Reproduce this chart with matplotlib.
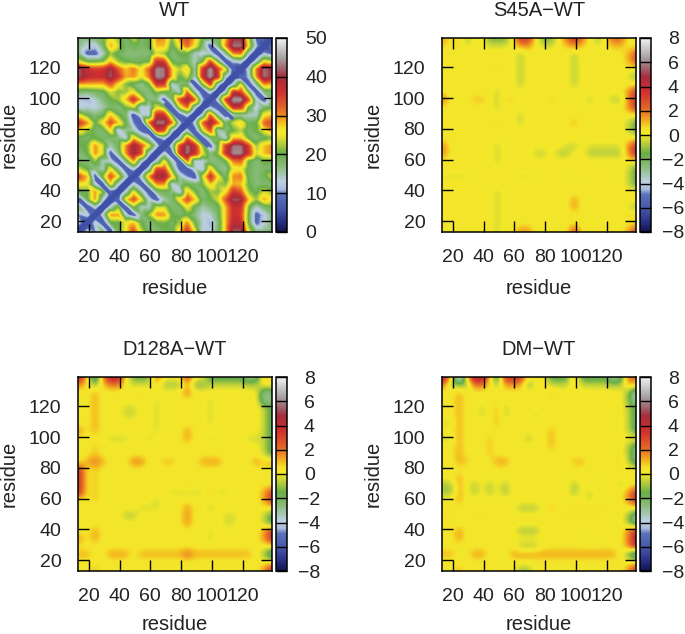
import numpy as np
import matplotlib
matplotlib.use("Agg")
import matplotlib.pyplot as plt
from matplotlib.cm import ScalarMappable
from matplotlib.colors import LinearSegmentedColormap, Normalize
from matplotlib.tri import Triangulation, LinearTriInterpolator

plt.rcParams['font.family'] = ['Liberation Sans', 'DejaVu Sans']
plt.rcParams['font.size'] = 14

# grid nodes (residue numbers) the maps were read at
residues = [14, 19, 24, 29, 34, 39, 44, 49, 54, 59, 64, 69, 74, 79, 84, 89, 94, 99, 104, 109, 114, 119, 124, 129, 134, 139]
tick_residues = [20, 40, 60, 80, 100, 120]
wt_cbar_ticks = [0, 10, 20, 30, 40, 50]
diff_cbar_ticks = [-8, -6, -4, -2, 0, 2, 4, 6, 8]

# WT map is symmetric: each row starts on the diagonal, rows go from residue 14 up to 139
wt_upper = [
    [3, 14, 10, 18, 7, 19, 26, 34, 24, 18, 17, 19, 19, 27, 36, 26, 13, 12, 18, 28, 42, 42, 25, 17, 17, 18],
    [3, 14, 6, 20, 20, 25, 28, 20, 17, 20, 21, 18, 22, 30, 20, 14, 11, 17, 28, 38, 37, 20, 8, 13, 17],
    [3, 14, 30, 30, 13, 7, 17, 22, 30, 30, 20, 18, 20, 17, 13, 14, 18, 28, 37, 35, 20, 8, 12, 17],
    [3, 14, 22, 7, 22, 14, 14, 24, 24, 18, 18, 26, 19, 15, 17, 19, 28, 37, 36, 21, 14, 18, 19],
    [3, 8, 27, 34, 26, 13, 7, 15, 18, 27, 34, 28, 18, 20, 24, 33, 42, 41, 28, 22, 29, 26],
    [3, 14, 26, 16, 7, 17, 19, 17, 12, 28, 21, 17, 22, 21, 26, 36, 33, 22, 19, 24, 22],
    [3, 14, 7, 18, 30, 30, 13, 16, 20, 18, 21, 28, 22, 21, 29, 28, 20, 17, 18, 18],
    [3, 14, 30, 41, 41, 28, 15, 10, 7, 24, 37, 26, 18, 30, 31, 19, 17, 19, 24],
    [3, 14, 34, 34, 20, 8, 7, 14, 12, 28, 18, 16, 25, 26, 19, 17, 18, 18],
    [3, 14, 26, 14, 7, 32, 13, 13, 17, 17, 20, 31, 32, 20, 17, 20, 20],
    [3, 14, 7, 36, 43, 37, 25, 17, 22, 36, 44, 44, 36, 24, 28, 30],
    [3, 14, 34, 43, 37, 22, 7, 20, 35, 43, 43, 35, 22, 28, 30],
    [3, 14, 32, 20, 7, 18, 18, 13, 28, 28, 20, 17, 19, 21],
    [3, 14, 7, 24, 34, 14, 17, 20, 23, 18, 20, 26, 30],
    [3, 14, 32, 41, 32, 18, 24, 28, 19, 20, 32, 34],
    [3, 14, 33, 16, 7, 14, 15, 14, 14, 26, 28],
    [3, 12, 7, 20, 37, 36, 20, 12, 18, 20],
    [3, 14, 35, 45, 45, 34, 14, 7, 18],
    [3, 14, 37, 35, 20, 7, 17, 18],
    [3, 14, 26, 7, 16, 30, 28],
    [3, 6, 12, 30, 43, 40],
    [3, 14, 31, 43, 40],
    [3, 14, 26, 24],
    [3, 12, 9],
    [3, 9],
    [3],
]

# blue ridges of the WT map, (x0, y0, x1, y1) in residues
wt_ridges = [
    (14, 34, 34, 14), (25, 47, 47, 25), (36, 62, 63, 36), (49, 88, 88, 49),
    (70, 96, 97, 69), (87, 111, 113, 87), (101, 132, 133, 100),
]
wt_diagonal = (13, 13, 139, 139)

# difference maps are flat yellow apart from these (x residues, y residues, value) cells
diff_base = 0.3
s45a_cells = [
    ([14], [139], 1.5), ([24], [139], 1.0), ([29], [139], -1.0), ([44, 49, 54], [139], -1.5),
    ([64, 69], [139], 3.6), ([79, 84], [139], -1.5), ([99], [139], 3.8), ([94, 104], [139], 2.0),
    ([114], [139], -1.0), ([124, 129], [139], 2.4),
    ([139], [129, 124], 2.6), ([139], [114], -1.2), ([139], [94, 99, 104], 3.6), ([139], [79, 84], -1.8),
    ([139], [64, 69], 3.7), ([139], [44, 49, 54], -1.7), ([139], [29], -1.2), ([139], [24], 1.0), ([139], [14], 3.0),
    ([64, 69], [14], 1.5), ([99], [14], 2.8), ([14], [99], 2.0), ([14], [64, 69], 1.6),
    ([64], [109, 114, 119, 124, 129], -0.7), ([64], [84, 89], -0.5),
    ([99], [109, 114, 119, 124, 129], -0.7),
    ([49], [14, 19, 24, 29, 34, 39], -0.4), ([49], [59, 64, 69], -0.4), ([49], [94, 99, 104], -0.5),
    ([74, 79], [64], -0.6), ([89, 94], [64], -0.8), ([109, 114, 119, 124, 129], [64], -0.8),
    ([94, 109, 114, 119, 124, 129], [69], -0.2), ([99], [69], -0.7),
    ([24], [99], -0.3), ([34, 39], [99], 1.0), ([54, 59], [99], 0.8), ([64], [99], -0.2), ([84], [99], 1.0),
    ([94], [99], -0.3), ([109], [99], -0.7), ([124, 129], [99], -0.7),
    ([14, 19, 24, 29], [49], -0.2), ([64, 69], [49], -0.2), ([99], [49], -0.3),
    ([99], [29, 34], 1.4), ([99], [84], 1.2), ([49], [84], 0.9), ([49], [119], 0.9),
]
d128a_cells = [
    ([14], [139], 4.0), ([19], [139], 1.0), ([24], [139], -4.0), ([29], [139], 1.5), ([34, 39], [139], 4.6),
    ([49, 54, 59], [139], -1.6), ([64], [139], 2.2), ([69, 74, 79], [134], -1.0), ([84], [139], 3.2),
    ([89, 94], [134], -1.4), ([99, 104, 109, 114, 119], [139], -2.0), ([124, 129], [139], -2.9), ([134], [139], 1.2),
    ([134, 139], [124, 129], -2.4), ([139], [89, 94, 99, 104, 109, 114, 119], -2.1), ([139], [84], 1.6),
    ([139], [59, 64], 3.2), ([139], [44, 49], -2.1), ([139], [34, 39], 3.6), ([139], [24], -3.6), ([139], [14], 3.6),
    ([14], [64, 69, 74, 79], 3.4), ([14], [104], 1.6), ([14], [34], 1.6),
    ([24], [104, 109, 114, 119, 124, 129], 1.2), ([24], [59, 64, 69, 74, 79, 89, 94], 0.9),
    ([24], [34, 39], 1.4), ([24], [14], 1.1),
    ([14, 19], [24], 1.2), ([34, 39, 44], [24], 1.4), ([54, 59, 64, 69, 74, 79, 89, 94, 99, 104, 109, 114, 119, 124], [24], 1.2),
    ([24], [84], 2.0), ([19, 29], [84], 1.3), ([49, 54], [84], 1.8), ([69, 74], [84], 1.0),
    ([94, 99, 104], [84], 1.4), ([129], [84], 1.5),
    ([84], [129], 2.0), ([84], [99, 104], 1.4), ([84], [69], 0.8), ([84], [44, 49, 54], 1.6), ([84], [24], 2.4),
    ([44, 49], [114, 119], -0.4), ([34, 39, 44], [99], -0.4), ([59], [99], -0.4), ([99], [99], -0.4), ([124, 129], [99], -0.4),
    ([64], [104, 109, 114, 119, 124], -0.3), ([99], [109, 114, 119, 124], -0.3),
    ([74, 79, 84, 89, 94, 104, 109], [64], -0.3), ([99], [64], 1.0),
    ([44, 49], [49], -0.8), ([99], [54], -0.6), ([99], [34, 39], -0.3), ([109, 114], [44, 49], -0.3),
    ([54], [129], 0.9), ([64], [59, 54], -0.3), ([54, 59], [54], -0.3),
]
dm_cells = [
    ([14], [139], 4.6), ([19], [139], 1.0), ([24], [139], -6.0), ([19, 29], [134], -1.2), ([34, 39], [139], 5.0),
    ([44], [139], 1.0), ([49], [139], -3.0), ([54, 59, 64], [139], 3.6), ([69], [134], -1.5), ([84, 89, 94], [139], -2.0),
    ([99], [139], 1.6), ([104, 109, 114, 119], [139], -2.1), ([124, 129], [139], -3.1), ([134], [139], 2.0), ([139], [139], 2.0),
    ([139], [124, 129], -3.6), ([139], [104, 109, 114, 119], -2.1), ([139], [84, 89, 94], -2.6),
    ([139], [59, 64], 3.6), ([139], [49, 44], -3.1), ([139], [29, 34, 39], 4.2), ([139], [24], -4.6), ([139], [14], 3.6),
    ([24], [84, 89, 94, 99, 104, 109, 114, 119, 124, 129, 134], 1.2), ([24], [59, 64, 69, 74], 1.2),
    ([24], [34, 39], 1.4), ([24], [14], 1.1),
    ([29], [84], 0.9), ([49, 54], [84], 1.4), ([99, 104], [84], 1.1), ([129], [84], 1.1),
    ([14, 19], [24], 1.1), ([34, 39], [24], 1.4), ([59, 64, 69, 74, 79, 84, 89, 94, 99, 104, 109, 114, 119, 124], [24], 1.4),
    ([14, 19], [64, 69], -0.9), ([34], [64, 69], -0.8), ([44], [64, 69], -0.8), ([54], [64, 69], -0.9),
    ([64, 69, 74], [54], -0.8), ([64, 69, 74], [39], -0.9), ([64, 69, 74], [29], -0.8), ([64, 69], [14], -0.9),
    ([69], [99], -0.9), ([54], [114, 119], -0.6), ([74], [114], -0.5), ([39], [114, 119], -0.4), ([14, 19], [99, 109], -0.3),
    ([99], [64, 69], -0.9), ([129], [69], -0.6), ([109], [59, 64], -0.4), ([109], [34], -0.4), ([114], [74], -0.2),
    ([49], [119, 114, 109], 1.0), ([44], [89, 94, 99], 0.9), ([84], [94, 99, 104], 1.1), ([84], [54], 1.0), ([84], [129], 1.1),
    ([14, 19, 34, 39], [49], 0.7), ([94, 99, 104], [49], 0.7), ([109, 114], [54], 0.8), ([54], [19], -0.2),
]

titles = ['WT', 'S45A\u2212WT', 'D128A\u2212WT', 'DM\u2212WT']

# gnuplot style palette, written against 0-50 of the colour bar
palette = [
    (0, '#12124c'), (3, '#2b3688'), (6, '#4658a8'), (9.6, '#5a72b8'), (11, '#a8bcdc'), (13, '#bcd0e0'),
    (17, '#88bc78'), (20.2, '#68ae48'), (23, '#bcd03c'), (25.2, '#f3e82a'), (26.6, '#f4e42a'), (28, '#f4c020'),
    (30, '#ee8c22'), (32, '#e26428'), (36, '#d03030'), (40, '#a62c3a'), (42, '#a06068'), (45, '#a8a2a4'), (50, '#f2f2f2'),
]
cmap = LinearSegmentedColormap.from_list('resid', [(v / 50, c) for v, c in palette], N=512)


def wt_matrix():
    n = len(residues)
    m = np.zeros((n, n))
    for i, row in enumerate(wt_upper):
        m[i, i:] = row
        m[i:, i] = row
    return m


def diff_matrix(cells):
    m = np.full((len(residues), len(residues)), diff_base)
    for xs, ys, v in cells:
        for x in xs:
            for y in ys:
                m[residues.index(y), residues.index(x)] = v
    # the edge bands are a few residues thick, let them run into the next row and column
    m[-2, :] += 0.35 * (m[-1, :] - diff_base)
    m[:, -2] += 0.35 * (m[:, -1] - diff_base)
    return m


def draw_wt(ax, data):
    # split the grid cells along the anti-diagonal (along the main diagonal on the diagonal itself)
    # so that ridges and diamonds stay connected
    n = len(residues)
    node_pos = [13] + residues[1:]
    gx, gy = np.meshgrid(node_pos, node_pos)
    triangles = []
    for i in range(n - 1):
        for j in range(n - 1):
            a, b, c, d = i * n + j, i * n + j + 1, (i + 1) * n + j, (i + 1) * n + j + 1
            if i == j:
                triangles += [[a, b, d], [a, d, c]]
            else:
                triangles += [[a, b, c], [b, d, c]]
    tri = Triangulation(gx.ravel(), gy.ravel(), triangles)

    # sample it finely and soften the facets, the original map is smooth
    fine = np.arange(13, 139.25, 0.5)
    fx, fy = np.meshgrid(fine, fine)
    z = np.ma.filled(LinearTriInterpolator(tri, data.ravel())(fx, fy), 20.0)
    kernel = np.array([1, 4, 6, 4, 1]) / 16
    z = np.pad(z, 2, mode='edge')
    z = np.apply_along_axis(lambda r: np.convolve(r, kernel, mode='same'), 0, z)
    z = np.apply_along_axis(lambda r: np.convolve(r, kernel, mode='same'), 1, z)[2:-2, 2:-2]
    ax.imshow(z, origin='lower', extent=(13, 139, 13, 139), cmap=cmap, vmin=0, vmax=50,
              interpolation='bilinear', interpolation_stage='data', aspect='auto')

    for x0, y0, x1, y1 in wt_ridges:
        ax.plot([x0, x1], [y0, y1], color='#4f62b4', lw=2.6, solid_capstyle='round')
    x0, y0, x1, y1 = wt_diagonal
    ax.plot([x0, x1], [y0, y1], color='#3f50a8', lw=4.0, solid_capstyle='butt')
    ax.set_xlim(13, 139)
    ax.set_ylim(13, 139)


def draw_diff(ax, data):
    ax.imshow(data, origin='lower', extent=(11.5, 141.5, 11.5, 141.5), cmap=cmap, vmin=-8, vmax=8,
              interpolation='bicubic', interpolation_stage='data', aspect='auto')
    ax.set_xlim(13, 139)
    ax.set_ylim(13, 139)


def draw_panel(fig, left, top, title, vmin, vmax, cbar_ticks, centred):
    # rectangles in pixels of the 685x634 picture
    ax = fig.add_axes([left / 685, 1 - (top + 194) / 634, 194 / 685, 194 / 634])
    cax = fig.add_axes([(left + 198) / 685, 1 - (top + 194) / 634, 11 / 685, 194 / 634])

    ax.set_xticks(tick_residues)
    ax.set_yticks(tick_residues)
    ax.tick_params(direction='in', length=8, width=1, top=True, right=True, pad=12)
    ax.set_title(title, pad=16, fontsize=14.5, color='#222222')
    ax.set_xlabel('residue', color='#222222', fontsize=14.5, va='center')
    ax.set_ylabel('residue', color='#222222', fontsize=14.5, va='center')
    # the bottom row label sits right on the lower edge of the picture
    ax.xaxis.set_label_coords(0.5, -0.292 if top < 300 else -0.276)
    ax.yaxis.set_label_coords(-0.356, 0.5)

    cb = fig.colorbar(ScalarMappable(Normalize(vmin, vmax), cmap), cax=cax)
    cb.set_ticks(cbar_ticks)
    cax.tick_params(direction='in', length=8, width=1, pad=13)
    if centred:
        # minus signs hang out to the left of the digits in the original
        cax.tick_params(pad=16)
        for lab in cax.get_yticklabels():
            lab.set_ha('center')
    for a in (ax, cax):
        for s in a.spines.values():
            s.set_linewidth(1.1)
        a.tick_params(labelcolor='#222222')
    return ax


fig = plt.figure(figsize=(6.85, 6.34), dpi=100)
draw_wt(draw_panel(fig, 78, 38, titles[0], 0, 50, wt_cbar_ticks, False), wt_matrix())
draw_diff(draw_panel(fig, 442, 38, titles[1], -8, 8, diff_cbar_ticks, True), diff_matrix(s45a_cells))
draw_diff(draw_panel(fig, 78, 377, titles[2], -8, 8, diff_cbar_ticks, True), diff_matrix(d128a_cells))
draw_diff(draw_panel(fig, 442, 377, titles[3], -8, 8, diff_cbar_ticks, True), diff_matrix(dm_cells))

fig.savefig('out.png', dpi=100)
